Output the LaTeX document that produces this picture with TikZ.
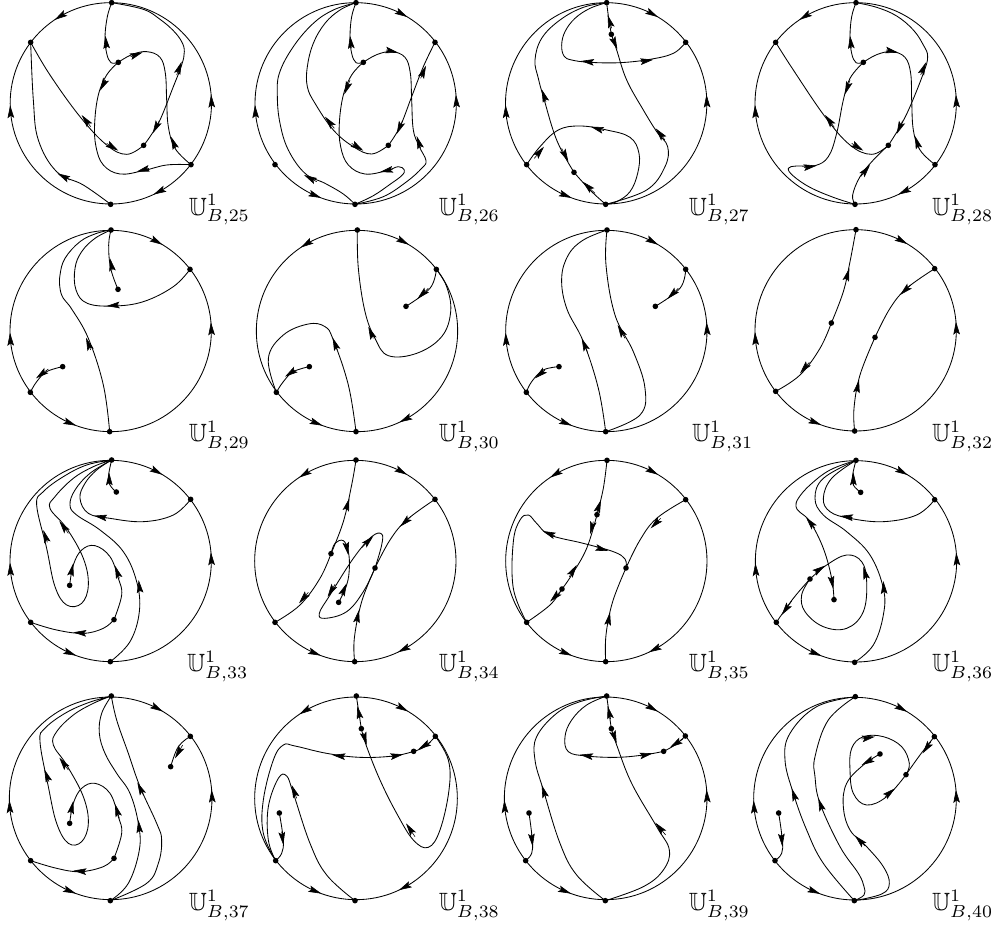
\documentclass[tikz,border=0pt]{standalone}
\usepackage{amsmath,amssymb,amsfonts}
\usepackage{tikz}
\usetikzlibrary{arrows.meta}

\tikzset{
  pnt/.style={circle,fill=black,inner sep=0pt,minimum size=5.6pt},
  line/.style={line width=0.85pt,line join=round},
  head/.style={line width=0.6pt,-{Stealth[length=13pt,width=6.6pt,inset=2.4pt]}},
  lab/.style={anchor=base west,inner sep=0pt,scale=2.5}
}
% arrows on the rim: angle/direction
\def\rimone{301/1,179/1,355/-1,110/-1}
\def\rimtwo{236/-1,179/1,355/-1,65/1}
\def\rimthree{236/-1,301/1,110/-1,65/1}
\newcommand{\rim}[4]{%
  \draw[line] (#1,#2) circle[radius=#3];
  \begin{scope}[shift={(#1,#2)}]
    \foreach \a/\s in #4 \draw[head] ({\a-\s*4}:#3) -- (\a:#3);
  \end{scope}}
\newcommand{\curve}[1]{\draw[line] plot[smooth,tension=0.65] coordinates {#1};}

\begin{document}
\begin{tikzpicture}[x=0.33333pt,y=-0.33333pt]
  \useasboundingbox (0,0) rectangle (3003,2790);

  % ---------- row 1, left
  \begin{scope}[shift={(0,0)}]
    % 25
    \rim{332.5}{310}{302}{\rimtwo}
    \node[pnt] (t25) at (335,8) {};
    \node[pnt] (a25) at (92,127) {};
    \node[pnt] (c25) at (573,494) {};
    \node[pnt] (b25) at (332,613) {};
    \node[pnt] (p25) at (355,187) {};
    \node[pnt] (q25) at (431,436) {};
    \curve{(t25) (322,50) (315,110) (320,160) (333,188) (p25)}
    \curve{(p25) (395,164) (440,155) (480,172) (496,220) (500,300) (505,380) (525,445) (c25)}
    \curve{(p25) (320,225) (295,285) (284,370) (288,440) (310,495) (360,522) (430,512) (500,495) (c25)}
    \curve{(t25) (430,28) (480,58) (520,92) (545,125) (553,155) (545,195) (520,260) (480,360) (450,410) (q25)}
    \curve{(a25) (150,225) (240,350) (320,435) (380,463) (q25)}
    \curve{(a25) (100,300) (115,420) (170,515) (250,555) (b25)}
    \foreach \xa/\ya/\xb/\yb in {320/145/316/107,392/170/428/157,527/445/513/410,317/240/300/272,447/505/410/515,
      530/225/545/185,478/362/458/400,272/380/245/345,320/430/355/452,210/540/172/520}
      \draw[head] (\xa,\ya) -- (\xb,\yb);
    \node[lab] (l25) at (565,645) {$\mathbb{U}^1_{B,25}$};
    % 26
    \rim{1067}{310}{302}{\rimone}
    \node[pnt] (t26) at (1068,8) {};
    \node[pnt] (a26) at (1305,127) {};
    \node[pnt] (c26) at (825,494) {};
    \node[pnt] (b26) at (1065,613) {};
    \node[pnt] (p26) at (1090,187) {};
    \node[pnt] (q26) at (1165,436) {};
    \curve{(t26) (1055,50) (1050,110) (1055,160) (1068,188) (p26)}
    \curve{(p26) (1130,164) (1175,155) (1215,172) (1231,220) (1235,300) (1240,390) (1258,440) (1278,482) (1265,505) (1220,545) (1150,590) (b26)}
    \curve{(p26) (1055,225) (1030,285) (1018,370) (1022,440) (1045,495) (1095,522) (1160,512) (1195,500) (1213,510) (1205,527) (1170,553) (1120,587) (b26)}
    \curve{(a26) (1270,200) (1235,290) (1200,380) (q26)}
    \curve{(t26) (1020,30) (975,70) (940,130) (922,200) (922,260) (945,310) (1000,390) (1060,440) (1115,462) (q26)}
    \curve{(t26) (1000,30) (940,70) (880,140) (838,220) (832,290) (840,370) (865,450) (915,520) (975,550) (1030,582) (b26)}
    \foreach \xa/\ya/\xb/\yb in {1054/145/1050/107,1158/150/1195/158,1262/445/1250/408,1050/240/1033/283,1178/508/1140/516,
      1262/235/1278/197,1208/362/1190/402,1003/385/975/350,1055/430/1090/452,950/545/912/525}
      \draw[head] (\xa,\ya) -- (\xb,\yb);
    \node[lab] (l26) at (1315,645) {$\mathbb{U}^1_{B,26}$};
  \end{scope}

  % ---------- row 1, right
  \begin{scope}[shift={(1500,0)}]
    % 27
    \rim{318.5}{310}{302}{\rimone}
    \node[pnt] (t27) at (320,8) {};
    \node[pnt] (a27) at (557,127) {};
    \node[pnt] (c27) at (80,494) {};
    \node[pnt] (b27) at (317,613) {};
    \node[pnt] (p27) at (334,103) {};
    \node[pnt] (q27) at (222,517) {};
    \curve{(t27) (326,55) (p27)}
    \curve{(p27) (350,150) (380,240) (430,330) (470,395) (503,440) (495,500) (440,570) (b27)}
    \curve{(t27) (270,25) (225,55) (195,95) (185,135) (192,168) (215,180) (270,187) (360,188) (450,178) (520,160) (a27)}
    \curve{(t27) (250,22) (180,60) (125,115) (105,180) (115,235) (130,290) (170,420) (q27)}
    \curve{(b27) (270,570) (q27)}
    \curve{(c27) (120,440) (175,390) (240,378) (320,390) (390,412) (417,460) (413,520) (390,575) (350,605) (b27)}
    \foreach \xa/\ya/\xb/\yb in {335/85/323/45,338/115/352/148,495/420/467/385,280/187/243/183,422/185/460/179,
      138/305/125/268,185/445/205/485,285/580/248/545,103/475/132/440,312/392/272/380}
      \draw[head] (\xa,\ya) -- (\xb,\yb);
    \node[lab] (l27) at (565,645) {$\mathbb{U}^1_{B,27}$};
    % 28
    \rim{1067}{310}{302}{\rimtwo}
    \node[pnt] (t28) at (1068,8) {};
    \node[pnt] (a28) at (827,127) {};
    \node[pnt] (c28) at (1305,494) {};
    \node[pnt] (b28) at (1065,613) {};
    \node[pnt] (p28) at (1090,187) {};
    \node[pnt] (q28) at (1165,436) {};
    \curve{(t28) (1055,50) (1050,110) (1055,160) (1068,188) (p28)}
    \curve{(p28) (1130,164) (1175,155) (1215,172) (1232,220) (1235,300) (1240,390) (1260,450) (c28)}
    \curve{(p28) (1050,235) (1030,300) (1010,400) (985,470) (945,497) (890,498) (865,505) (880,528) (930,562) (1000,592) (b28)}
    \curve{(t28) (1130,22) (1190,48) (1240,90) (1270,135) (1283,170) (1270,220) (1230,320) (1200,380) (q28)}
    \curve{(a28) (880,210) (975,350) (1050,435) (1115,463) (q28)}
    \curve{(b28) (1058,585) (1080,530) (1120,480) (q28)}
    \foreach \xa/\ya/\xb/\yb in {1054/145/1050/107,1158/150/1195/158,1257/445/1245/408,1050/240/1035/283,912/503/950/497,
      1262/225/1278/187,1208/362/1190/402,1003/382/975/345,1055/430/1090/452,1082/530/1110/495}
      \draw[head] (\xa,\ya) -- (\xb,\yb);
    \node[lab] (l28) at (1295,645) {$\mathbb{U}^1_{B,28}$};
  \end{scope}

  % ---------- row 2, left
  \begin{scope}[shift={(0,675)}]
    % 29
    \rim{332}{318}{302}{\rimone}
    \node[pnt] (t29) at (333,15) {};
    \node[pnt] (a29) at (570,133) {};
    \node[pnt] (c29) at (91,502) {};
    \node[pnt] (b29) at (329,620) {};
    \node[pnt] (p29) at (354,193) {};
    \node[pnt] (q29) at (188,425) {};
    \curve{(t29) (326,60) (332,130) (p29)}
    \curve{(q29) (140,440) (110,470) (c29)}
    \curve{(a29) (520,185) (430,230) (340,243) (262,235) (228,195) (225,130) (245,80) (285,40) (t29)}
    \curve{(b29) (310,480) (265,340) (215,252) (190,220) (180,190) (180,150) (195,100) (240,50) (290,25) (t29)}
    \foreach \xa/\ya/\xb/\yb in {337/135/330/100,145/432/108/460,358/240/320/243,272/375/258/338}
      \draw[head] (\xa,\ya) -- (\xb,\yb);
    \node[lab] (l29) at (565,650) {$\mathbb{U}^1_{B,29}$};
    % 30
    \rim{1071}{318}{302}{\rimthree}
    \node[pnt] (t30) at (1072,15) {};
    \node[pnt] (a30) at (1309,133) {};
    \node[pnt] (c30) at (829,502) {};
    \node[pnt] (b30) at (1068,620) {};
    \node[pnt] (p30) at (1218,244) {};
    \node[pnt] (q30) at (928,425) {};
    \curve{(a30) (1290,190) (p30)}
    \curve{(q30) (880,440) (850,470) (c30)}
    \curve{(t30) (1075,130) (1095,260) (1125,340) (1165,392) (1250,385) (1325,335) (1352,260) (1340,185) (a30)}
    \curve{(b30) (1045,480) (1000,345) (975,305) (925,297) (850,330) (805,400) (c30)}
    \foreach \xa/\ya/\xb/\yb in {1285/190/1252/222,885/435/855/455,1120/340/1105/305,1012/375/998/338}
      \draw[head] (\xa,\ya) -- (\xb,\yb);
    \node[lab] (l30) at (1315,650) {$\mathbb{U}^1_{B,30}$};
  \end{scope}

  % ---------- row 2, right
  \begin{scope}[shift={(1500,675)}]
    % 31
    \rim{319}{318}{302}{\rimone}
    \node[pnt] (t31) at (321,15) {};
    \node[pnt] (a31) at (557,133) {};
    \node[pnt] (c31) at (79,502) {};
    \node[pnt] (b31) at (317,620) {};
    \node[pnt] (p31) at (466,244) {};
    \node[pnt] (q31) at (177,425) {};
    \curve{(a31) (540,190) (p31)}
    \curve{(q31) (130,435) (95,470) (c31)}
    \curve{(t31) (318,120) (345,270) (400,380) (435,490) (420,570) (b31)}
    \curve{(b31) (295,490) (250,350) (200,250) (185,160) (205,90) (250,45) (t31)}
    \foreach \xa/\ya/\xb/\yb in {535/190/502/222,135/435/105/460,375/340/353/300,262/380/245/340}
      \draw[head] (\xa,\ya) -- (\xb,\yb);
    \node[lab] (l31) at (575,650) {$\mathbb{U}^1_{B,31}$};
    % 32
    \rim{1067}{316}{302}{\rimone}
    \node[pnt] (t32) at (1068,14) {};
    \node[pnt] (a32) at (1304,131) {};
    \node[pnt] (c32) at (827,499) {};
    \node[pnt] (b32) at (1064,618) {};
    \node[pnt] (p32) at (994,294) {};
    \node[pnt] (q32) at (1125,337) {};
    \curve{(p32) (1030,200) (1050,110) (t32)}
    \curve{(p32) (960,370) (900,450) (c32)}
    \curve{(a32) (1220,190) (1170,250) (q32)}
    \curve{(b32) (1062,550) (1080,450) (q32)}
    \foreach \xa/\ya/\xb/\yb in {1038/165/1048/130,928/412/900/445,1232/180/1200/210,1070/500/1077/465}
      \draw[head] (\xa,\ya) -- (\xb,\yb);
    \node[lab] (l32) at (1295,650) {$\mathbb{U}^1_{B,32}$};
  \end{scope}

  % ---------- row 3, left
  \begin{scope}[shift={(0,1365)}]
    % 33
    \rim{332}{318}{302}{\rimone}
    \node[pnt] (t33) at (335,15) {};
    \node[pnt] (a33) at (572,133) {};
    \node[pnt] (c33) at (92,502) {};
    \node[pnt] (b33) at (331,620) {};
    \node[pnt] (p33) at (349,111) {};
    \node[pnt] (q33) at (209,391) {};
    \node[pnt] (r33) at (342,494) {};
    \curve{(p33) (330,90) (326,60) (t33)}
    \curve{(a33) (520,180) (430,200) (330,190) (265,175) (240,130) (255,85) (290,45) (t33)}
    \curve{(b33) (390,560) (418,470) (410,380) (370,290) (300,225) (230,180) (210,150) (225,105) (270,55) (t33)}
    \curve{(q33) (220,330) (245,285) (285,272) (330,305) (355,370) (365,420) (r33)}
    \curve{(c33) (170,525) (250,535) (310,520) (r33)}
    \curve{(t33) (280,35) (220,70) (165,125) (150,160) (200,220) (250,310) (265,390) (245,445) (200,450) (165,395) (140,280) (110,150) (130,110) (190,65) (260,30) (t33)}
    \foreach \xa/\ya/\xb/\yb in {328/90/327/52,320/189/282/182,420/410/416/375,212/360/220/325,358/370/345/332,
      258/535/220/532,205/235/178/198,142/262/130/225}
      \draw[head] (\xa,\ya) -- (\xb,\yb);
    \node[lab] (l33) at (560,650) {$\mathbb{U}^1_{B,33}$};
    % 34
    \rim{1066}{318}{302}{\rimthree}
    \node[pnt] (t34) at (1068,15) {};
    \node[pnt] (a34) at (1305,133) {};
    \node[pnt] (c34) at (825,502) {};
    \node[pnt] (b34) at (1064,620) {};
    \node[pnt] (p34) at (993,296) {};
    \node[pnt] (q34) at (1125,339) {};
    \node[pnt] (r34) at (1016,442) {};
    \curve{(p34) (1030,200) (1055,90) (t34)}
    \curve{(p34) (960,370) (900,450) (c34)}
    \curve{(a34) (1220,195) (1170,255) (q34)}
    \curve{(b34) (1063,550) (1085,440) (q34)}
    \curve{(p34) (1005,265) (1030,257) (1045,290) (1048,340) (1040,390) (r34)}
    \curve{(q34) (1145,270) (1145,237) (1115,245) (1060,310) (990,420) (958,475) (975,490) (1040,470) (1090,410) (q34)}
    \foreach \xa/\ya/\xb/\yb in {1038/165/1048/130,925/412/897/445,1232/185/1200/215,1070/500/1077/465,1038/265/1045/300,
      1025/420/1040/385,1085/278/1120/243,1005/388/983/425}
      \draw[head] (\xa,\ya) -- (\xb,\yb);
    \node[lab] (l34) at (1315,650) {$\mathbb{U}^1_{B,34}$};
  \end{scope}

  % ---------- row 3, right
  \begin{scope}[shift={(1500,1365)}]
    % 35
    \rim{319}{318}{302}{\rimthree}
    \node[pnt] (t35) at (321,16) {};
    \node[pnt] (a35) at (557,134) {};
    \node[pnt] (c35) at (80,502) {};
    \node[pnt] (b35) at (317,620) {};
    \node[pnt] (p35) at (291,179) {};
    \node[pnt] (q35) at (186,402) {};
    \node[pnt] (r35) at (378,339) {};
    \curve{(t35) (310,100) (p35)}
    \curve{(p35) (260,280) (215,360) (q35)}
    \curve{(q35) (150,450) (c35)}
    \curve{(a35) (470,190) (420,255) (r35)}
    \curve{(b35) (318,540) (338,440) (r35)}
    \curve{(r35) (375,312) (340,290) (250,265) (150,240) (110,205) (85,180) (60,195) (40,260) (40,400) (c35)}
    \foreach \xa/\ya/\xb/\yb in {291/170/303/135,280/200/270/238,208/365/230/330,180/410/150/440,482/190/452/220,
      323/510/330/472,290/278/325/288,165/243/128/228}
      \draw[head] (\xa,\ya) -- (\xb,\yb);
    \node[lab] (l35) at (565,650) {$\mathbb{U}^1_{B,35}$};
    % 36
    \rim{1068}{319}{302}{\rimone}
    \node[pnt] (t36) at (1068,16) {};
    \node[pnt] (a36) at (1304,134) {};
    \node[pnt] (c36) at (829,502) {};
    \node[pnt] (b36) at (1064,622) {};
    \node[pnt] (p36) at (1082,112) {};
    \node[pnt] (q36) at (1002,434) {};
    \node[pnt] (r36) at (930,372) {};
    \curve{(p36) (1060,90) (1058,60) (t36)}
    \curve{(a36) (1250,180) (1150,200) (1050,190) (990,170) (970,130) (995,70) (t36)}
    \curve{(b36) (1120,570) (1150,480) (1150,400) (1110,300) (1040,230) (970,180) (945,130) (970,70) (t36)}
    \curve{(t36) (990,45) (930,90) (895,130) (888,155) (900,172) (930,200) (970,280) (995,370) (q36)}
    \curve{(r36) (880,430) (c36)}
    \curve{(r36) (980,330) (1040,300) (1085,320) (1100,380) (1090,470) (1040,520) (970,515) (915,470) (905,420) (r36)}
    \foreach \xa/\ya/\xb/\yb in {1060/90/1060/52,1058/188/1020/183,1152/410/1150/378,945/220/918/187,993/365/1000/402,
      875/438/845/480,945/352/975/332,1100/372/1090/335}
      \draw[head] (\xa,\ya) -- (\xb,\yb);
    \node[lab] (l36) at (1295,650) {$\mathbb{U}^1_{B,36}$};
  \end{scope}

  % ---------- row 4, left
  \begin{scope}[shift={(0,2070)}]
    % 37
    \rim{332}{325}{304}{\rimone}
    \node[pnt] (t37) at (334,18) {};
    \node[pnt] (a37) at (571,139) {};
    \node[pnt] (c37) at (92,512) {};
    \node[pnt] (b37) at (331,632) {};
    \node[pnt] (p37) at (512,230) {};
    \node[pnt] (q37) at (209,400) {};
    \node[pnt] (r37) at (342,505) {};
    \curve{(a37) (535,170) (p37)}
    \curve{(q37) (220,340) (245,295) (285,280) (330,310) (355,380) (365,430) (r37)}
    \curve{(c37) (170,535) (240,545) (310,530) (r37)}
    \curve{(b37) (385,580) (418,480) (415,400) (390,310) (350,250) (315,190) (298,130) (305,70) (t37)}
    \curve{(b37) (440,580) (475,520) (485,450) (470,400) (420,290) (385,190) (350,90) (t37)}
    \curve{(t37) (280,40) (220,75) (170,125) (160,165) (200,225) (250,320) (265,400) (245,455) (205,460) (170,400) (145,290) (120,155) (135,115) (195,70) (265,38) (t37)}
    \foreach \xa/\ya/\xb/\yb in {548/165/525/205,212/370/220/333,358/385/345/342,258/545/220/542,419/425/415/390,
      430/315/412/277,205/240/178/203,147/275/133/238}
      \draw[head] (\xa,\ya) -- (\xb,\yb);
    \node[lab] (l37) at (565,662) {$\mathbb{U}^1_{B,37}$};
    % 38
    \rim{1068}{325}{304}{\rimthree}
    \node[pnt] (t38) at (1069,18) {};
    \node[pnt] (a38) at (1306,139) {};
    \node[pnt] (c38) at (827,512) {};
    \node[pnt] (b38) at (1065,632) {};
    \node[pnt] (p38) at (1084,116) {};
    \node[pnt] (q38) at (838,369) {};
    \node[pnt] (r38) at (1241,184) {};
    \curve{(t38) (p38)}
    \curve{(p38) (1100,170) (1140,270) (1190,370) (1240,450) (1285,472) (1320,420) (1347,300) (1345,210) (a38)}
    \curve{(a38) (1275,170) (r38)}
    \curve{(r38) (1180,198) (1080,202) (980,190) (885,168) (850,165) (820,210) (790,330) (790,430) (c38)}
    \curve{(q38) (850,450) (845,490) (c38)}
    \curve{(b38) (980,555) (930,460) (880,310) (860,258) (835,265) (805,350) (805,450) (c38)}
    \foreach \xa/\ya/\xb/\yb in {1080/85/1072/48,1090/130/1100/165,1245/440/1218/400,1293/155/1255/178,1172/200/1210/193,
      1035/200/997/195,845/425/850/465,890/325/875/285}
      \draw[head] (\xa,\ya) -- (\xb,\yb);
    \node[lab] (l38) at (1315,662) {$\mathbb{U}^1_{B,38}$};
  \end{scope}

  % ---------- row 4, right
  \begin{scope}[shift={(1500,2070)}]
    % 39
    \rim{317}{325}{304}{\rimone}
    \node[pnt] (t39) at (320,18) {};
    \node[pnt] (a39) at (556,138) {};
    \node[pnt] (c39) at (77,512) {};
    \node[pnt] (b39) at (316,632) {};
    \node[pnt] (p39) at (334,116) {};
    \node[pnt] (q39) at (87,369) {};
    \node[pnt] (r39) at (491,184) {};
    \curve{(t39) (p39)}
    \curve{(p39) (350,165) (395,280) (470,410) (508,480) (490,540) (430,590) (b39)}
    \curve{(a39) (525,165) (r39)}
    \curve{(r39) (430,195) (350,202) (260,198) (205,185) (195,140) (215,90) (260,45) (t39)}
    \curve{(q39) (97,450) (95,490) (c39)}
    \curve{(b39) (230,555) (180,460) (130,300) (105,210) (110,140) (170,70) (240,35) (t39)}
    \foreach \xa/\ya/\xb/\yb in {332/88/323/48,338/125/350/160,497/435/466/398,548/148/510/172,420/198/458/190,
      278/200/240/194,94/430/98/470,137/322/125/285}
      \draw[head] (\xa,\ya) -- (\xb,\yb);
    \node[lab] (l39) at (565,662) {$\mathbb{U}^1_{B,39}$};
    % 40
    \rim{1065}{326}{304}{\rimone}
    \node[pnt] (t40) at (1066,20) {};
    \node[pnt] (a40) at (1303,140) {};
    \node[pnt] (c40) at (825,512) {};
    \node[pnt] (b40) at (1063,632) {};
    \node[pnt] (p40) at (1140,192) {};
    \node[pnt] (q40) at (836,369) {};
    \node[pnt] (r40) at (1218,254) {};
    \curve{(a40) (1260,195) (r40)}
    \curve{(r40) (1228,220) (1205,170) (1150,140) (1090,140) (1055,175) (1050,240) (1060,310) (1100,345) (1160,320) (r40)}
    \curve{(p40) (1090,225) (1040,280) (1030,350) (1050,420) (1100,470) (1150,530) (1168,580) (1145,612) (b40)}
    \curve{(q40) (847,450) (845,490) (c40)}
    \curve{(t40) (985,90) (945,200) (945,260) (960,340) (1020,470) (1075,550) (1092,590) (1092,615) (b40)}
    \curve{(t40) (950,50) (870,130) (855,210) (880,310) (920,420) (970,520) (b40)}
    \foreach \xa/\ya/\xb/\yb in {1293/155/1268/190,1085/147/1125/140,1155/320/1185/295,1118/207/1085/225,1095/468/1065/437,
      844/430/847/470,967/360/955/325,887/330/875/295}
      \draw[head] (\xa,\ya) -- (\xb,\yb);
    \node[lab] (l40) at (1295,662) {$\mathbb{U}^1_{B,40}$};
  \end{scope}
\end{tikzpicture}
\end{document}
